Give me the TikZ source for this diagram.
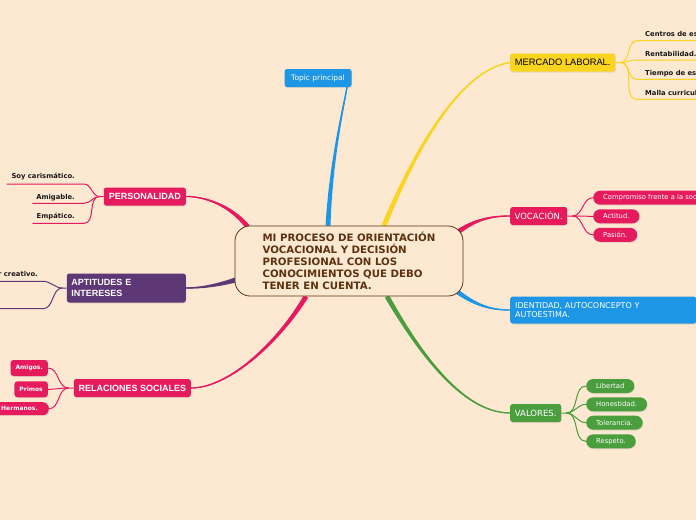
\documentclass[tikz,border=0pt]{standalone}
\usepackage{fontspec}
\setmainfont{DejaVu Sans}
\newfontfamily\arialf{Liberation Sans}
\usetikzlibrary{calc,shadows}
\pgfdeclarelayer{back}
\pgfdeclarelayer{links}
\pgfsetlayers{back,links,main}
\definecolor{bgc}{RGB}{253,232,210}
\definecolor{crim}{RGB}{230,27,94}
\definecolor{blu}{RGB}{30,150,230}
\definecolor{yel}{RGB}{250,212,30}
\definecolor{pur}{RGB}{94,55,118}
\definecolor{grn}{RGB}{74,158,61}
\definecolor{brn}{RGB}{92,51,17}
\definecolor{ink}{RGB}{25,25,25}
% tapered branch: colour, start, control1, control2, end, half-width offset
\newcommand\taper[6]{%
  \fill[#1] ($(#2)+(#6)$) .. controls ($(#3)+0.6*(#6)$) and ($(#4)+0.35*(#6)$) .. ($(#5)+0.2*(#6)$)
     -- ($(#5)-0.2*(#6)$) .. controls ($(#4)-0.35*(#6)$) and ($(#3)-0.6*(#6)$) .. ($(#2)-(#6)$) -- cycle;
  \draw[#1,line width=1.3pt] (#2) .. controls (#3) and (#4) .. (#5);}
\tikzset{
  shad/.style={drop shadow={opacity=.18,shadow xshift=.6pt,shadow yshift=-1pt}},
  box/.style={rounded corners=2.5pt,inner xsep=4pt,inner ysep=0pt,minimum height=18pt,text=white,anchor=west,shad},
  pill/.style={rounded corners=7pt,minimum height=14pt,inner ysep=0pt,inner xsep=10pt,text=white,
    font=\fontsize{6.8}{8}\selectfont,anchor=west,shad},
  rpill/.style={rounded corners=3pt,fill=crim,text=white,font=\bfseries\fontsize{6}{7}\selectfont,
    minimum height=16pt,inner ysep=0pt,inner xsep=5pt,anchor=east,shad},
  leaf/.style={font=\bfseries\fontsize{6.8}{8}\selectfont,text=ink,inner sep=0pt},
  sub/.style={line width=1pt}
}
\begin{document}
\begin{tikzpicture}[x=1pt,y=-1pt]
\useasboundingbox (0,0) rectangle (696,520);
\begin{pgfonlayer}{back}
\fill[bgc] (0,0) rectangle (696,520);
\end{pgfonlayer}
\clip (0,0) rectangle (696,520);

% central topic
\node[draw=brn,line width=0.8pt,fill=bgc,rounded corners=15pt,minimum width=228pt,minimum height=70pt,
  align=left,text=brn,font=\bfseries\fontsize{10.2}{12}\selectfont,inner sep=0pt] (c) at (349,261)
  {MI PROCESO DE ORIENTACIÓN\\VOCACIONAL Y DECISIÓN\\PROFESIONAL CON LOS\\CONOCIMIENTOS QUE DEBO\\TENER EN CUENTA.};

% main branches
\node[box,fill=blu,anchor=center,minimum width=67pt,font=\fontsize{7.5}{9}\selectfont] (t) at (318,78) {Topic principal};
\node[box,fill=yel,text=black,minimum width=105pt,font=\arialf\fontsize{9.3}{11}\selectfont] (m) at (510,62.5) {MERCADO LABORAL.};
\node[box,fill=crim,minimum width=57pt,font=\fontsize{8.5}{10}\selectfont] (v) at (510,216) {VOCACIÓN.};
\node[box,fill=blu,text width=176pt,inner xsep=5pt,align=left,minimum height=27pt,
  font=\fontsize{8}{9.5}\selectfont] (i) at (510,310) {IDENTIDAD, AUTOCONCEPTO Y\\AUTOESTIMA.};
\node[box,fill=grn,minimum width=51pt,font=\fontsize{8.5}{10}\selectfont] (va) at (510,413) {VALORES.};
\node[box,fill=crim,anchor=east,minimum width=82pt,font=\arialf\bfseries\fontsize{9}{11}\selectfont] (p) at (186,196.5) {PERSONALIDAD};
\node[box,fill=pur,anchor=east,text width=110pt,inner xsep=4.5pt,align=left,minimum height=29pt,
  font=\arialf\bfseries\fontsize{9}{10.7}\selectfont] (a) at (186,288) {APTITUDES E\\INTERESES};
\node[box,fill=crim,anchor=east,minimum width=117pt,font=\arialf\bfseries\fontsize{9}{11}\selectfont] (r) at (191,388) {RELACIONES SOCIALES};

% branch anchor points
\coordinate (ct) at ([shift={(-21,0)}]c.north);
\coordinate (te) at ([shift={(29,0)}]t.south);
\coordinate (cy) at ([shift={(35,0)}]c.north);
\coordinate (cg) at ([shift={(38,0)}]c.south);
\coordinate (cr) at ([shift={(-43,0)}]c.south);
\coordinate (cp) at ([shift={(13,1)}]c.north west);
\coordinate (ca) at ([shift={(1,19)}]c.west);
\coordinate (cv) at ([shift={(-5,6)}]c.north east);
\coordinate (ci) at ([shift={(-8,-6)}]c.south east);

% sub-topics: mercado laboral
\node[leaf,anchor=base west] (m1) at (645,36.5) {Centros de estudio.};
\node[leaf,anchor=base west] (m2) at (645,56.2) {Rentabilidad.};
\node[leaf,anchor=base west] (m3) at (645,75.2) {Tiempo de estudio.};
\node[leaf,anchor=base west] (m4) at (645,95.2) {Malla curricular.};
\coordinate (mj) at ([shift={(5,0)}]m.east);
\coordinate (mu1) at (637,40.7); \coordinate (mu1e) at (700,40.7);
\coordinate (mu2) at (637,60);   \coordinate (mu2e) at (700,60);
\coordinate (mu3) at (637,79.3); \coordinate (mu3e) at (700,79.3);
\coordinate (mu4) at (637,99.3); \coordinate (mu4e) at (700,99.3);

% vocacion
\node[pill,fill=crim] (v1) at (593,197.7) {Compromiso frente a la sociedad.};
\node[pill,fill=crim] (v2) at (593,216.3) {Actitud.};
\node[pill,fill=crim] (v3) at (593,234.8) {Pasión.};
\coordinate (vj) at ([shift={(5,0)}]v.east);

% valores
\node[pill,fill=grn] (g1) at (586,386) {Libertad};
\node[pill,fill=grn] (g2) at (586,404.3) {Honestidad.};
\node[pill,fill=grn] (g3) at (586,422.7) {Tolerancia.};
\node[pill,fill=grn] (g4) at (586,441.3) {Respeto.};
\coordinate (gj) at ([shift={(5,0)}]va.east);

% personalidad
\node[leaf,anchor=base east] (p1) at (75,178.8) {Soy carismático.};
\node[leaf,anchor=base east] (p2) at (75,199.2) {Amigable.};
\node[leaf,anchor=base east] (p3) at (75,218.2) {Empático.};
\coordinate (pj) at ([shift={(-4,0)}]p.west);
\coordinate (pu1) at (84,184);   \coordinate (pu1e) at (6.7,184);
\coordinate (pu2) at (84,203.3); \coordinate (pu2e) at (32.3,203.3);
\coordinate (pu3) at (84,223.3); \coordinate (pu3e) at (32.3,223.3);

% aptitudes
\node[leaf,anchor=base east] (a1) at (38,276.5) {Ser creativo.};
\coordinate (aj) at ([shift={(-4,0)}]a.west);
\coordinate (au1) at (43,281.3); \coordinate (au1e) at (-5,281.3);
\coordinate (au2) at (43,308.7); \coordinate (au2e) at (-5,308.7);

% relaciones sociales
\node[rpill] (r1) at (48,368) {Amigos.};
\node[rpill] (r2) at (48,389.3) {Primos};
\node[rpill,inner xsep=11pt,rounded corners=6pt,minimum height=13pt] (r3) at (49,408.7) {Hermanos.};
\coordinate (rj) at ([shift={(-5,0)}]r.west);

\begin{pgfonlayer}{links}
\taper{blu}{ct}{331,160}{343,110}{te}{2.5,0}
\taper{yel}{cy}{415,150}{460,70}{m.west}{2.3,0.9}
\taper{grn}{cg}{415,345}{460,413}{va.west}{2.1,-1.3}
\taper{crim}{cr}{280,340}{230,388}{r.east}{2.15,1.27}
\taper{crim}{cp}{230,205}{205,196.5}{p.east}{1.9,-1.6}
\taper{pur}{ca}{215,286}{200,288}{a.east}{0.7,2.4}
\taper{crim}{cv}{475,220}{490,216}{v.west}{1.45,2.05}
\taper{blu}{ci}{475,305}{490,310}{i.west}{1.5,-2}

\draw[sub,yel] (m.east) -- (mj) to[out=0,in=180] (mu1) -- (mu1e);
\draw[sub,yel] (mj) to[out=0,in=180] (mu2) -- (mu2e);
\draw[sub,yel] (mj) to[out=0,in=180] (mu3) -- (mu3e);
\draw[sub,yel] (mj) to[out=0,in=180] (mu4) -- (mu4e);

\draw[sub,crim] (v.east) -- (vj) to[out=0,in=180] (v1.west);
\draw[sub,crim] (vj) to[out=0,in=180] (v2.west);
\draw[sub,crim] (vj) to[out=0,in=180] (v3.west);

\draw[sub,grn] (va.east) -- (gj) to[out=0,in=180] (g1.west);
\draw[sub,grn] (gj) to[out=0,in=180] (g2.west);
\draw[sub,grn] (gj) to[out=0,in=180] (g3.west);
\draw[sub,grn] (gj) to[out=0,in=180] (g4.west);

\draw[sub,crim] (p.west) -- (pj) to[out=180,in=0] (pu1) -- (pu1e);
\draw[sub,crim] (pj) to[out=180,in=0] (pu2) -- (pu2e);
\draw[sub,crim] (pj) to[out=180,in=0] (pu3) -- (pu3e);

\draw[sub,pur] (a.west) -- (aj) to[out=180,in=0] (au1) -- (au1e);
\draw[sub,pur] (aj) to[out=180,in=0] (au2) -- (au2e);

\draw[sub,crim] (r.west) -- (rj) to[out=180,in=0] (r1.east);
\draw[sub,crim] (rj) to[out=180,in=0] (r2.east);
\draw[sub,crim] (rj) to[out=180,in=0] (r3.east);
\end{pgfonlayer}
\end{tikzpicture}
\end{document}
